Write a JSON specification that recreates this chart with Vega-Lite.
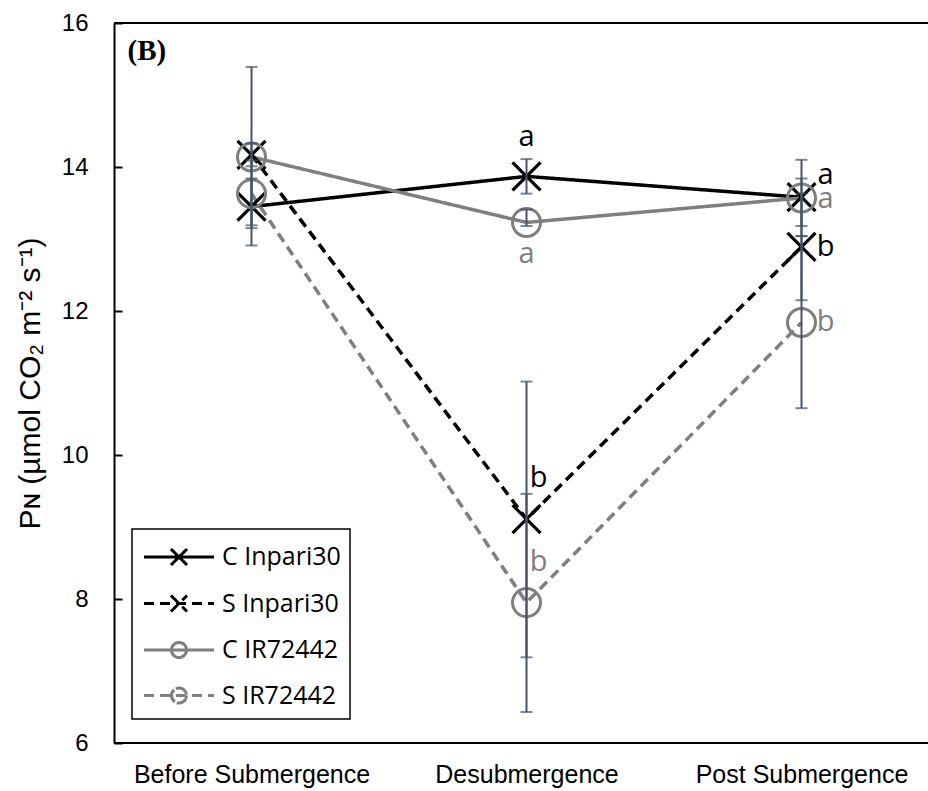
{
  "$schema": "https://vega.github.io/schema/vega-lite/v6.json",
  "width": 814,
  "height": 720,
  "autosize": {"type": "none"},
  "padding": {"left": 114, "top": 23, "right": 0, "bottom": 48},
  "background": "white",
  "config": {
    "view": {"stroke": null},
    "axisX": {"domain": false, "ticks": false, "labelFont": "Liberation Sans", "labelFontSize": 25, "labelColor": "#000", "labelPadding": 19, "labelLimit": 0, "grid": false, "labelAngle": 0},
    "axisY": {"domainColor": "#000", "domainWidth": 2, "tickColor": "#000", "tickWidth": 2, "tickSize": -8, "tickCount": 5, "labelFont": "Liberation Sans", "labelFontSize": 24, "labelColor": "#000", "labelPadding": 34, "grid": false, "titleFont": "Liberation Sans", "titleFontSize": 30, "titleFontWeight": "normal", "titleColor": "#000", "titlePadding": 16},
    "legend": {
      "orient": "none", "legendX": 18, "legendY": 506, "strokeColor": "#000", "strokeWidth": 1.5, "padding": 9,
      "labelFont": "Open Sans", "labelFontSize": 25, "labelColor": "#000", "labelOffset": 24, "labelLimit": 300,
      "symbolSize": 1225, "symbolStrokeWidth": 3, "symbolOffset": 19, "rowPadding": 12.5, "symbolFillColor": "transparent"
    }
  },
  "datasets": {
    "pts": [
      {"series": "C Inpari30", "stage": "Before Submergence", "pn": 13.45, "lo": 13.15, "hi": 13.84},
      {"series": "C Inpari30", "stage": "Desubmergence", "pn": 13.87, "lo": 13.63, "hi": 14.11},
      {"series": "C Inpari30", "stage": "Post Submergence", "pn": 13.58, "lo": 13.04, "hi": 14.1},
      {"series": "S Inpari30", "stage": "Before Submergence", "pn": 14.17, "lo": 14.01, "hi": 14.33},
      {"series": "S Inpari30", "stage": "Desubmergence", "pn": 9.11, "lo": 7.19, "hi": 11.02},
      {"series": "S Inpari30", "stage": "Post Submergence", "pn": 12.89, "lo": 12.15, "hi": 13.63},
      {"series": "C IR72442", "stage": "Before Submergence", "pn": 14.14, "lo": 12.91, "hi": 15.39},
      {"series": "C IR72442", "stage": "Desubmergence", "pn": 13.23, "lo": 13.18, "hi": 13.41},
      {"series": "C IR72442", "stage": "Post Submergence", "pn": 13.57, "lo": 13.18, "hi": 13.84},
      {"series": "S IR72442", "stage": "Before Submergence", "pn": 13.63, "lo": 13.19, "hi": 14.09},
      {"series": "S IR72442", "stage": "Desubmergence", "pn": 7.95, "lo": 6.43, "hi": 9.46},
      {"series": "S IR72442", "stage": "Post Submergence", "pn": 11.84, "lo": 10.65, "hi": 13.04}
    ],
    "letters": [
      {"series": "C Inpari30", "stage": "Desubmergence", "letter": "a", "ly": 14.42},
      {"series": "C IR72442", "stage": "Desubmergence", "letter": "a", "ly": 12.79},
      {"series": "S Inpari30", "stage": "Desubmergence", "letter": "b", "ly": 9.68},
      {"series": "S IR72442", "stage": "Desubmergence", "letter": "b", "ly": 8.52},
      {"series": "C Inpari30", "stage": "Post Submergence", "letter": "a", "ly": 13.89},
      {"series": "C IR72442", "stage": "Post Submergence", "letter": "a", "ly": 13.56},
      {"series": "S Inpari30", "stage": "Post Submergence", "letter": "b", "ly": 12.89},
      {"series": "S IR72442", "stage": "Post Submergence", "letter": "b", "ly": 11.85}
    ],
    "frame": [{"edge": 16}, {"edge": 6}],
    "panel": [{"label": "(B)", "stage": "Before Submergence", "py": 15.48}]
  },
  "layer": [
    {
      "data": {"name": "frame"},
      "mark": {"type": "rule", "color": "#000", "strokeWidth": 2},
      "encoding": {"y": {"field": "edge", "type": "quantitative", "title": "Pɴ (µmol CO₂ m⁻² s⁻¹)"}}
    },
    {
      "data": {"name": "pts"},
      "mark": {"type": "line", "strokeWidth": 3.5},
      "encoding": {
        "x": {"field": "stage", "type": "nominal", "title": null, "sort": ["Before Submergence", "Desubmergence", "Post Submergence"], "scale": {"type": "point", "range": [137.5, 687.5], "padding": 0}},
        "y": {"field": "pn", "type": "quantitative", "title": "Pɴ (µmol CO₂ m⁻² s⁻¹)", "scale": {"domain": [6, 16], "nice": false, "zero": false}},
        "color": {"field": "series", "type": "nominal", "sort": null, "scale": {"domain": ["C Inpari30", "S Inpari30", "C IR72442", "S IR72442"], "range": ["#000000", "#000000", "#7f7f7f", "#7f7f7f"]},
          "legend": {"title": null, "encode": {"symbols": {"update": {
            "shape": {"signal": "indexof(datum.value, 'Inpari') >= 0 ? 'M-2,0L2,0M-0.46,-0.46L0.46,0.46M-0.46,0.46L0.46,-0.46' : 'M-2,0L2,0M0.43,0A0.43,0.43 0 1,1 -0.43,0A0.43,0.43 0 1,1 0.43,0A0.43,0.43 0 1,0 -0.43,0A0.43,0.43 0 1,0 0.43,0'"},
            "fill": {"value": "transparent"}}}}}},
        "strokeDash": {"field": "series", "type": "nominal", "sort": null, "scale": {"domain": ["C Inpari30", "S Inpari30", "C IR72442", "S IR72442"], "range": [[1, 0], [10, 6], [1, 0], [10, 6]]}, "legend": {"title": null}}
      }
    },
    {
      "data": {"name": "pts"},
      "transform": [{"filter": "indexof(datum.series, 'Inpari') >= 0"}],
      "mark": {"type": "point", "filled": false, "strokeWidth": 3.2, "size": 784, "opacity": 1, "shape": "M-1,-1L1,1M-1,1L1,-1"},
      "encoding": {
        "x": {"field": "stage", "type": "nominal", "title": null, "sort": ["Before Submergence", "Desubmergence", "Post Submergence"]},
        "y": {"field": "pn", "type": "quantitative", "title": "Pɴ (µmol CO₂ m⁻² s⁻¹)"},
        "stroke": {"field": "series", "type": "nominal", "sort": null, "legend": null, "scale": {"domain": ["C Inpari30", "S Inpari30", "C IR72442", "S IR72442"], "range": ["#000000", "#000000", "#7f7f7f", "#7f7f7f"]}}
      }
    },
    {
      "data": {"name": "pts"},
      "transform": [{"filter": "indexof(datum.series, 'IR') >= 0"}],
      "mark": {"type": "point", "filled": false, "strokeWidth": 3, "size": 784, "opacity": 1, "shape": "M1,0A1,1 0 1,1 -1,0A1,1 0 1,1 1,0Z"},
      "encoding": {
        "x": {"field": "stage", "type": "nominal", "title": null, "sort": ["Before Submergence", "Desubmergence", "Post Submergence"]},
        "y": {"field": "pn", "type": "quantitative", "title": "Pɴ (µmol CO₂ m⁻² s⁻¹)"},
        "stroke": {"field": "series", "type": "nominal", "sort": null, "legend": null}
      }
    },
    {
      "data": {"name": "pts"},
      "mark": {"type": "errorbar", "color": "#44546a", "thickness": 2, "ticks": {"size": 12, "thickness": 2, "color": "#44546a"}},
      "encoding": {
        "x": {"field": "stage", "type": "nominal", "title": null, "sort": ["Before Submergence", "Desubmergence", "Post Submergence"]},
        "y": {"field": "lo", "type": "quantitative", "title": "Pɴ (µmol CO₂ m⁻² s⁻¹)"},
        "y2": {"field": "hi"}
      }
    },
    {
      "data": {"name": "letters"},
      "transform": [{"filter": "datum.stage === 'Desubmergence' && datum.letter === 'a'"}],
      "mark": {"type": "text", "font": "Open Sans", "fontSize": 29, "baseline": "middle", "align": "center"},
      "encoding": {
        "x": {"field": "stage", "type": "nominal", "title": null, "sort": ["Before Submergence", "Desubmergence", "Post Submergence"]},
        "y": {"field": "ly", "type": "quantitative", "title": "Pɴ (µmol CO₂ m⁻² s⁻¹)"},
        "text": {"field": "letter"},
        "fill": {"field": "series", "type": "nominal", "sort": null, "legend": null, "scale": {"domain": ["C Inpari30", "S Inpari30", "C IR72442", "S IR72442"], "range": ["#000000", "#000000", "#7f7f7f", "#7f7f7f"]}}
      }
    },
    {
      "data": {"name": "letters"},
      "transform": [{"filter": "datum.stage === 'Desubmergence' && datum.letter === 'b'"}],
      "mark": {"type": "text", "font": "Open Sans", "fontSize": 29, "baseline": "middle", "align": "center", "dx": 12},
      "encoding": {
        "x": {"field": "stage", "type": "nominal", "title": null, "sort": ["Before Submergence", "Desubmergence", "Post Submergence"]},
        "y": {"field": "ly", "type": "quantitative", "title": "Pɴ (µmol CO₂ m⁻² s⁻¹)"},
        "text": {"field": "letter"},
        "fill": {"field": "series", "type": "nominal", "sort": null, "legend": null}
      }
    },
    {
      "data": {"name": "letters"},
      "transform": [{"filter": "datum.stage === 'Post Submergence'"}],
      "mark": {"type": "text", "font": "Open Sans", "fontSize": 29, "baseline": "middle", "align": "center", "dx": 24},
      "encoding": {
        "x": {"field": "stage", "type": "nominal", "title": null, "sort": ["Before Submergence", "Desubmergence", "Post Submergence"]},
        "y": {"field": "ly", "type": "quantitative", "title": "Pɴ (µmol CO₂ m⁻² s⁻¹)"},
        "text": {"field": "letter"},
        "fill": {"field": "series", "type": "nominal", "sort": null, "legend": null}
      }
    },
    {
      "data": {"name": "panel"},
      "mark": {"type": "text", "font": "Liberation Serif", "fontWeight": "bold", "fontSize": 29, "baseline": "alphabetic", "align": "left", "dx": -124, "color": "#000"},
      "encoding": {
        "x": {"field": "stage", "type": "nominal", "title": null, "sort": ["Before Submergence", "Desubmergence", "Post Submergence"]},
        "y": {"field": "py", "type": "quantitative", "title": "Pɴ (µmol CO₂ m⁻² s⁻¹)"},
        "text": {"field": "label"}
      }
    }
  ]
}
